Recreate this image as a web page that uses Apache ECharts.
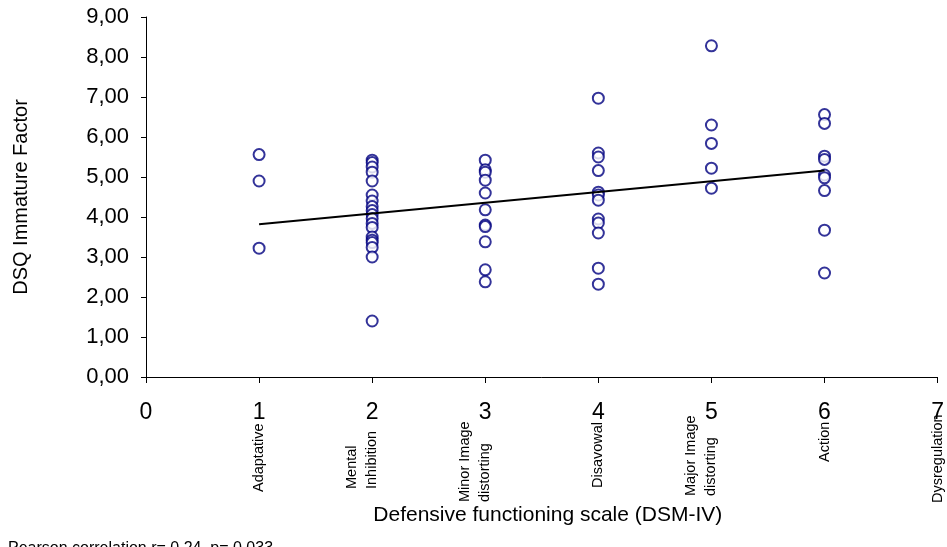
<!DOCTYPE html>
<html>
<head>
<meta charset="utf-8">
<script src="https://cdn.jsdelivr.net/npm/echarts@6/dist/echarts.min.js"></script>
<style>
html,body{margin:0;padding:0;background:#fff;}
#chart{width:947px;height:547px;}
</style>
</head>
<body>
<div id="chart"></div>
<script>
// ---- data ----
const groupX1 = [5.56, 4.90, 3.22];
const groupX2 = [5.42, 5.36, 5.25, 5.12, 4.90, 4.55, 4.40, 4.26, 4.16, 4.06, 3.96, 3.84, 3.74, 3.50, 3.42, 3.36, 3.24, 3.00, 1.40];
const groupX3 = [5.42, 5.18, 5.12, 4.92, 4.60, 4.18, 3.80, 3.76, 3.38, 2.68, 2.38];
const groupX4 = [6.97, 5.60, 5.50, 5.16, 4.62, 4.55, 4.42, 3.95, 3.85, 3.60, 2.72, 2.32];
const groupX5 = [8.28, 6.30, 5.84, 5.22, 4.72];
const groupX6 = [6.56, 6.34, 5.52, 5.44, 5.05, 4.98, 4.66, 3.67, 2.60];
const groupPositions = [1, 2, 3, 4, 5, 6];
const trendX = [1, 6];
const trendY = [3.82, 5.16];
const categoryPositions = [1, 2, 3, 4, 5, 6, 7];
const categoryNames = ['Adaptative', 'Mental\nInhibition', 'Minor Image\ndistorting', 'Disavowal', 'Major Image\ndistorting', 'Action', 'Dysregulation'];
const xTitle = 'Defensive functioning scale (DSM-IV)';
const yTitle = 'DSQ Immature Factor';
const noteText = 'Pearson correlation r= 0,24  p= 0,033';

// ---- layout (not data) ----
const labelBottoms = [492, 489, 502, 488, 496, 462, 503];
const FONT = '"Liberation Sans", Arial, sans-serif';

const groups = [groupX1, groupX2, groupX3, groupX4, groupX5, groupX6];
const scatterData = [];
groups.forEach((g, i) => g.forEach(v => scatterData.push([groupPositions[i], v])));
const trendData = trendX.map((x, i) => [x, trendY[i]]);

const chart = echarts.init(document.getElementById('chart'), null, {renderer: 'canvas'});
chart.setOption({
  backgroundColor: '#ffffff',
  animation: false,
  grid: {left: 146, right: 8, top: 17, bottom: 170, containLabel: false},
  xAxis: {
    type: 'value', min: 0, max: 7, interval: 1,
    splitLine: {show: false},
    axisLine: {show: true, onZero: false, lineStyle: {color: '#000', width: 1}},
    axisTick: {show: true, length: 6, lineStyle: {color: '#000'}},
    axisLabel: {fontSize: 23, color: '#000', fontFamily: FONT, margin: 24},
    name: xTitle, nameLocation: 'middle', nameGap: 128,
    nameTextStyle: {fontSize: 21, color: '#000', fontFamily: FONT, padding: [0, 0, 0, 12]}
  },
  yAxis: {
    type: 'value', min: 0, max: 9, interval: 1,
    splitLine: {show: false},
    axisLine: {show: true, lineStyle: {color: '#000', width: 1}},
    axisTick: {show: true, length: 5, lineStyle: {color: '#000'}},
    axisLabel: {fontSize: 22, color: '#000', fontFamily: FONT, margin: 17,
      formatter: v => v.toFixed(2).replace('.', ',')},
    name: yTitle, nameLocation: 'middle', nameGap: 115, nameRotate: 90,
    nameTextStyle: {fontSize: 20, color: '#000', fontFamily: FONT}
  },
  series: [
    {
      type: 'scatter', data: scatterData, symbol: 'emptyCircle', symbolSize: 11,
      itemStyle: {color: '#000080', borderColor: '#000080', borderWidth: 1.1},
      z: 2
    },
    {
      type: 'line', data: trendData, symbol: 'none', silent: true,
      lineStyle: {color: '#000', width: 2}, z: 3
    }
  ]
});

const graphics = categoryPositions.map((p, i) => {
  const px = chart.convertToPixel({xAxisIndex: 0}, p);
  return {
    type: 'text', x: px + 10, y: labelBottoms[i], rotation: Math.PI / 2,
    style: {text: categoryNames[i], fontSize: 14.5, fontFamily: FONT, fill: '#000',
      align: 'left', verticalAlign: 'bottom', lineHeight: 20}
  };
});
graphics.push({
  type: 'text', x: 8, y: 541,
  style: {text: noteText, fontSize: 16, fontFamily: FONT, fill: '#000', align: 'left', verticalAlign: 'top'}
});
chart.setOption({graphic: graphics});
</script>
</body>
</html>
